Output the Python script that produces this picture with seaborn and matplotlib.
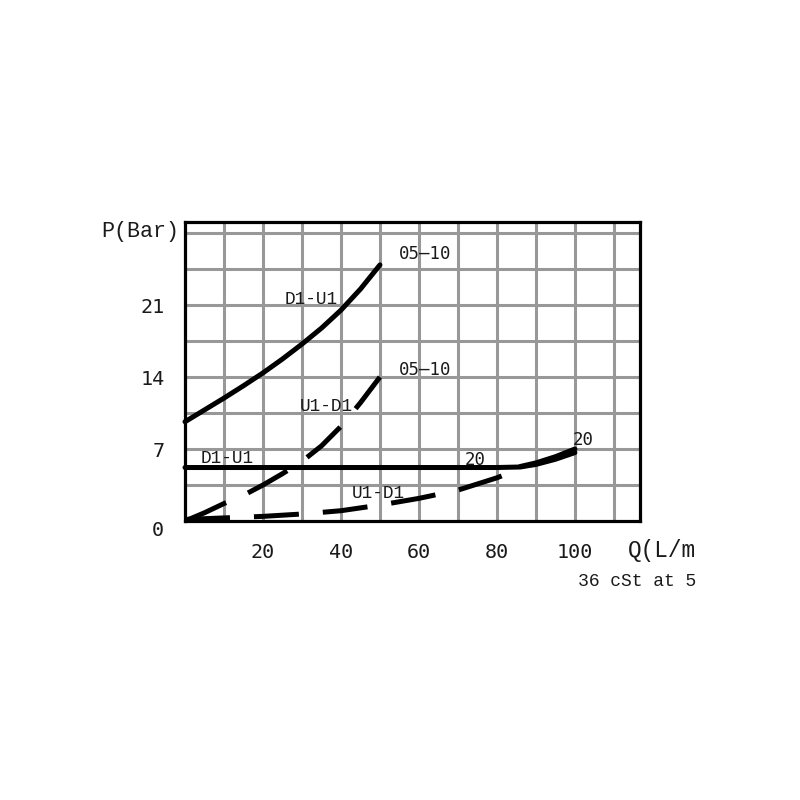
import numpy as np
import pandas as pd
import matplotlib
matplotlib.use("Agg")
import matplotlib.pyplot as plt
import seaborn as sns

# curves, Q in L/min, P in bar
q_du_0510 = [0, 5, 10, 15, 20, 25, 30, 35, 40, 45, 50]
p_du_0510 = [9.65, 10.8, 11.95, 13.15, 14.4, 15.75, 17.2, 18.75, 20.5, 22.55, 24.9]

q_ud_0510 = [0, 5, 10, 15, 20, 25, 30, 35, 40, 45, 50]
p_ud_0510 = [0.0, 0.8, 1.7, 2.5, 3.5, 4.6, 5.8, 7.3, 9.2, 11.5, 14.0]

q_du_20 = [0, 20, 40, 60, 80, 86, 90, 95, 100]
p_du_20 = [5.2, 5.2, 5.2, 5.2, 5.2, 5.25, 5.5, 6.0, 6.65]

q_ud_20 = [0, 10, 20, 30, 40, 50, 60, 70, 80, 84]
p_ud_20 = [0.15, 0.3, 0.45, 0.68, 1.0, 1.55, 2.2, 3.0, 4.2, 4.8]
# where the dashed curve merges with the solid one
q_ud_20_end = [86, 90, 95, 100]
p_ud_20_end = [5.3, 5.65, 6.25, 7.0]

x_ticks = [20, 40, 60, 80, 100]
y_ticks = [7, 14, 21]

sns.set_theme(style="white")
plt.rcParams['font.family'] = ['DejaVu Sans Mono', 'DejaVu Sans']

fig = plt.figure(figsize=(8, 8), dpi=100)
ax = fig.add_axes([0.23125, 0.34875, 0.56875, 0.37375])

grey = '#989898'
ax.set_xlim(0, 116.7)
ax.set_ylim(0, 29.07)
ax.set_xticks(x_ticks)
ax.set_xticks([10, 30, 50, 70, 90, 110], minor=True)
ax.set_yticks(y_ticks)
ax.set_yticks([3.5, 10.5, 17.5, 24.5, 28], minor=True)
ax.grid(True, which='both', color=grey, linewidth=2.2)
ax.set_axisbelow(True)
ax.tick_params(which='major', length=8.6, width=2.2, color=grey,
               direction='out', labelsize=14.5, pad=7, labelcolor='#1a1a1a')
ax.tick_params(which='minor', length=0)
ax.tick_params(axis='y', pad=6)
for s in ax.spines.values():
    s.set_color('black')
    s.set_linewidth(2.3)
    s.set_zorder(5)

lw = 3.6
dash = (0, (9, 4.8))
sns.lineplot(data=pd.DataFrame({'q': q_du_0510, 'p': p_du_0510}), x='q', y='p',
             ax=ax, color='black', linewidth=lw, clip_on=False)
sns.lineplot(data=pd.DataFrame({'q': q_ud_0510, 'p': p_ud_0510}), x='q', y='p',
             ax=ax, color='black', linewidth=lw, linestyle=dash, clip_on=False)
sns.lineplot(data=pd.DataFrame({'q': q_du_20, 'p': p_du_20}), x='q', y='p',
             ax=ax, color='black', linewidth=lw, clip_on=False)
sns.lineplot(data=pd.DataFrame({'q': q_ud_20, 'p': p_ud_20}), x='q', y='p',
             ax=ax, color='black', linewidth=lw, linestyle=dash, clip_on=False)
sns.lineplot(data=pd.DataFrame({'q': q_ud_20_end, 'p': p_ud_20_end}), x='q', y='p',
             ax=ax, color='black', linewidth=lw, clip_on=False)
ax.set_xlabel('')
ax.set_ylabel('')

mono = ['Liberation Mono', 'DejaVu Sans Mono']
lab = dict(fontsize=12.8, family=mono, color='#1a1a1a')
num = dict(fontsize=12.5, color='#1a1a1a')
ax.text(32.4, 21.5, 'D1-U1', ha='center', va='center', **lab)
ax.text(61.5, 26.0, '05\u201310', ha='center', va='center', **num)
ax.text(36.3, 11.1, 'U1-D1', ha='center', va='center', **lab)
ax.text(61.5, 14.7, '05\u201310', ha='center', va='center', **num)
ax.text(10.7, 6.1, 'D1-U1', ha='center', va='center', **lab)
ax.text(74.4, 5.9, '20', ha='center', va='center', **num)
ax.text(49.5, 2.7, 'U1-D1', ha='center', va='center', **lab)
ax.text(102.2, 7.9, '20', ha='center', va='center', **num)

ax.text(-6.9, -0.9, '0', ha='center', va='center', fontsize=14.5,
        color='#1a1a1a', clip_on=False)
fig.text(140 / 800, 1 - 232 / 800, 'P(Bar)', ha='center', va='center',
         fontsize=15.6, family=mono, color='#1a1a1a')
fig.text(628 / 800, 1 - 551 / 800, 'Q(L/m', ha='left', va='center',
         fontsize=16.4, family=mono, color='#1a1a1a')
fig.text(578 / 800, 1 - 581 / 800, '36 cSt at 5', ha='left', va='center',
         fontsize=13, family=mono, color='#1a1a1a')

fig.savefig('out.png', dpi=100, facecolor='white')
